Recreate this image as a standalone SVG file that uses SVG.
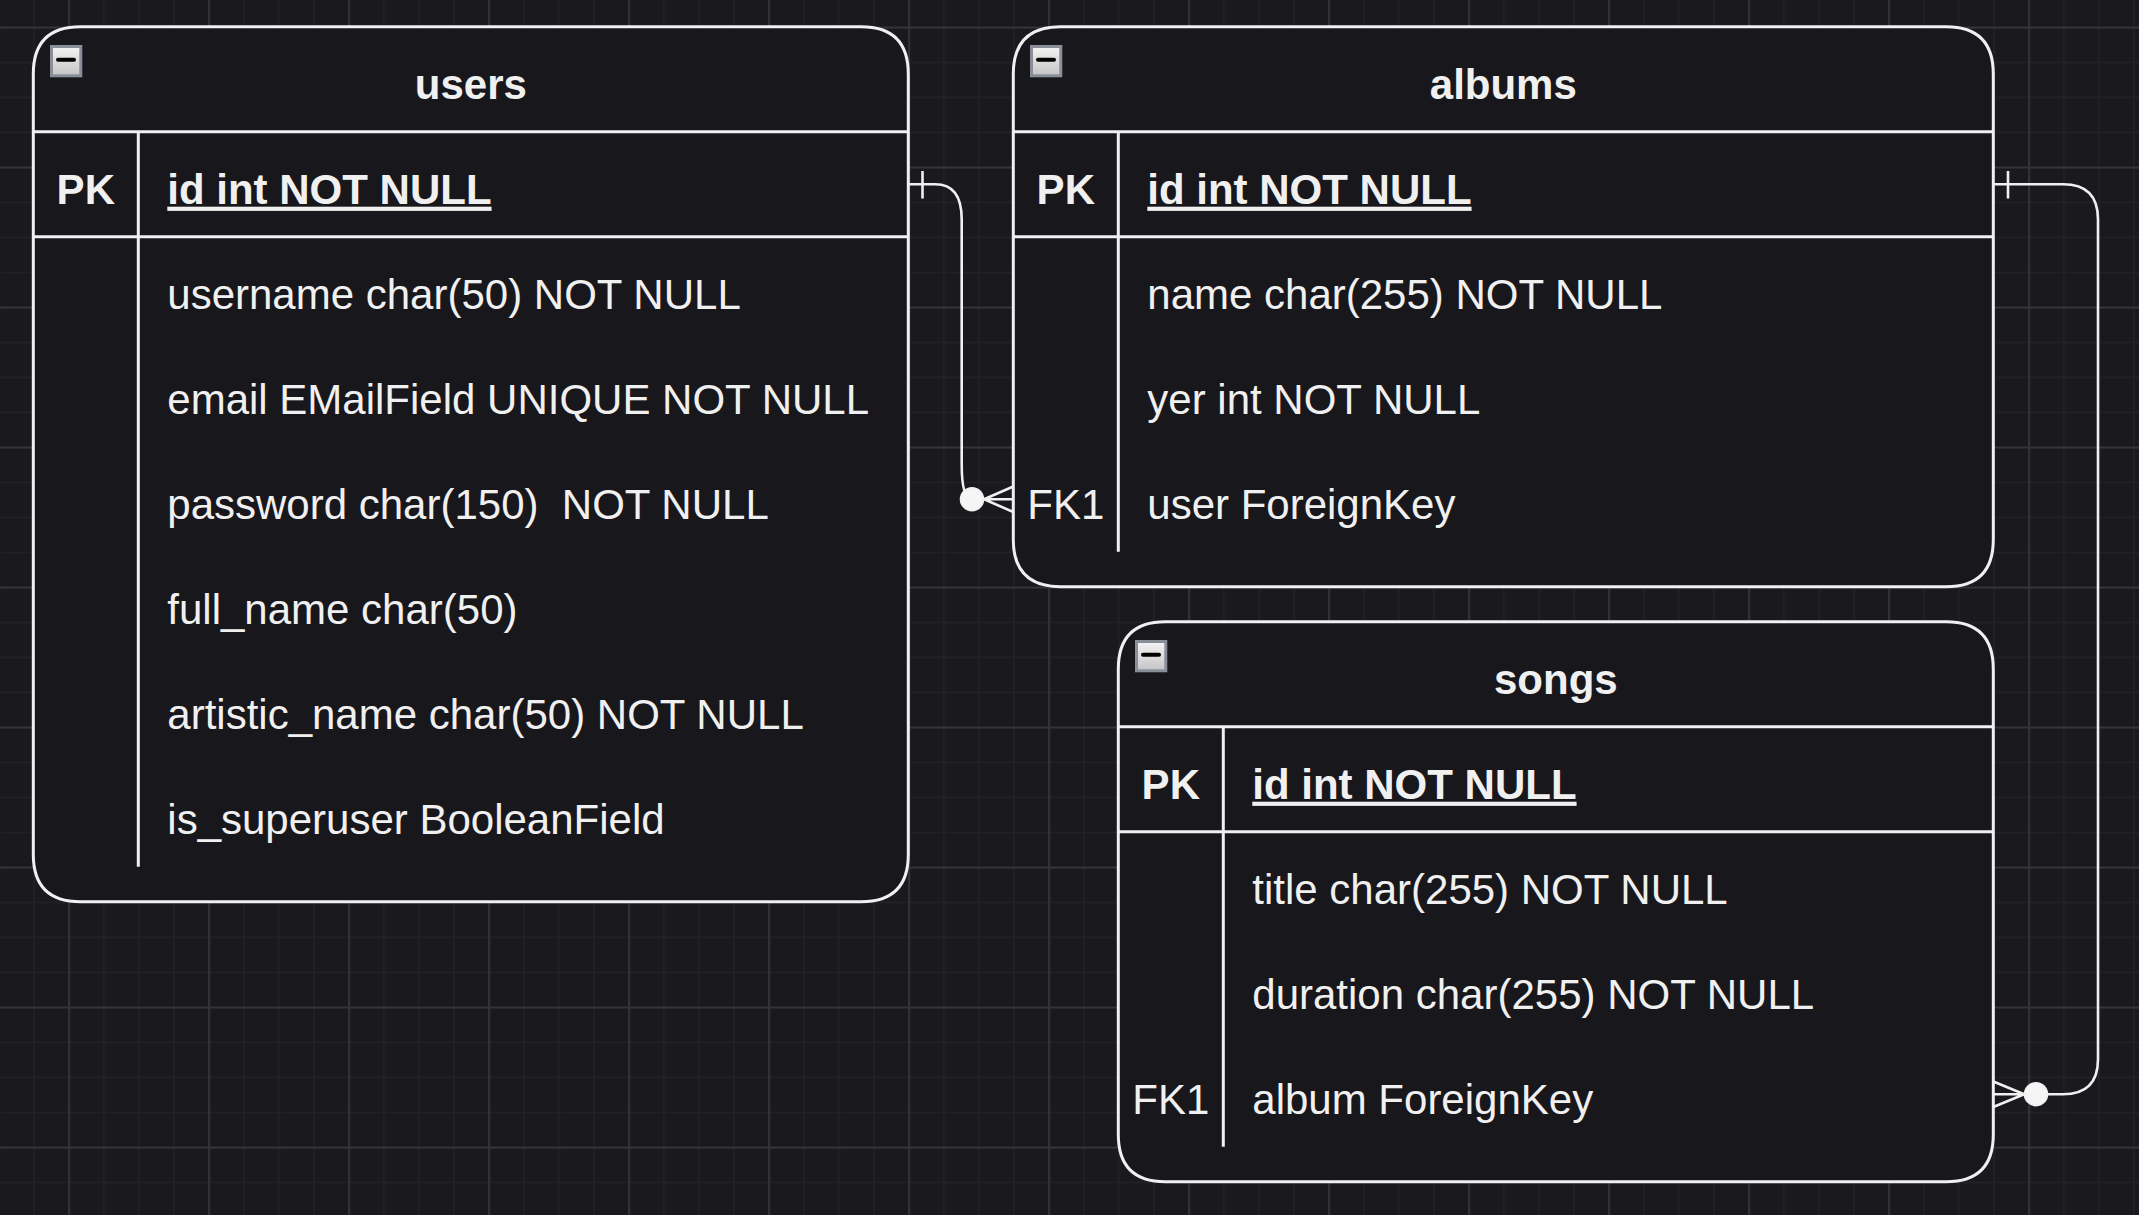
<svg xmlns="http://www.w3.org/2000/svg" width="2139" height="1215" viewBox="0 0 2139 1215">
<style>
text{font-family:"Liberation Sans",Arial,Helvetica,sans-serif;font-size:42px;fill:#f0f0f0}
.t{font-weight:bold;text-anchor:middle}
.pk{font-weight:bold;text-anchor:middle}
.fk{text-anchor:middle}
.idf{font-weight:bold;text-decoration:underline}
.box{fill:#18171c;stroke:#f0f0f0;stroke-width:3}
.ln{stroke:#f0f0f0;stroke-width:3;fill:none}
.edge{stroke:#f0f0f0;stroke-width:2.6;fill:none}
.dot{fill:#f5f5f5;stroke:#f0f0f0;stroke-width:1.5}
</style>
<defs>
<pattern id="fine" x="33.3" y="26.7" width="35" height="35" patternUnits="userSpaceOnUse">
<rect x="0" y="0" width="35" height="1.3" fill="#242328"/>
<rect x="0" y="0" width="1.3" height="35" fill="#242328"/>
</pattern>
<pattern id="major" x="68.3" y="26.7" width="140" height="140" patternUnits="userSpaceOnUse">
<rect x="0" y="0" width="140" height="1.6" fill="#38373d"/>
<rect x="0" y="0" width="1.6" height="140" fill="#38373d"/>
</pattern>
<linearGradient id="ig" x1="0" y1="0" x2="0" y2="1">
<stop offset="0" stop-color="#f4f4f4"/>
<stop offset="1" stop-color="#c4c4c6"/>
</linearGradient>
<g id="icon">
<rect x="18.2" y="19.8" width="29.3" height="29.3" fill="url(#ig)" stroke="#8a8e99" stroke-width="3"/>
<rect x="22.7" y="31" width="20" height="4" rx="2" fill="#000"/>
</g>
</defs>
<rect x="0" y="0" width="2139" height="1215" fill="#1a191e"/>
<rect x="0" y="0" width="2139" height="1215" fill="url(#fine)"/>
<rect x="0" y="0" width="2139" height="1215" fill="url(#major)"/>

<g id="users" transform="translate(33.3,26.7)">
<path class="box" d="M0,105 V47.25 Q0,0 47.25,0 H827.75 Q875,0 875,47.25 V827.75 Q875,875 827.75,875 H47.25 Q0,875 0,827.75 Z"/>
<path class="ln" d="M0,105 H875 M0,210 H875 M105,105 V840"/>
<use href="#icon"/>
<text class="t" x="437.5" y="72">users</text>
<text class="pk" x="52.5" y="177">PK</text>
<text class="idf" x="134" y="177">id int NOT NULL</text>
<text x="134" y="282">username char(50) NOT NULL</text>
<text x="134" y="387">email EMailField UNIQUE NOT NULL</text>
<text x="134" y="492" xml:space="preserve">password char(150)  NOT NULL</text>
<text x="134" y="597">full_name char(50)</text>
<text x="134" y="702">artistic_name char(50) NOT NULL</text>
<text x="134" y="807">is_superuser BooleanField</text>
</g>

<g id="albums" transform="translate(1013.3,26.7)">
<path class="box" d="M0,105 V47.25 Q0,0 47.25,0 H932.75 Q980,0 980,47.25 V512.75 Q980,560 932.75,560 H47.25 Q0,560 0,512.75 Z"/>
<path class="ln" d="M0,105 H980 M0,210 H980 M105,105 V525"/>
<use href="#icon"/>
<text class="t" x="490" y="72">albums</text>
<text class="pk" x="52.5" y="177">PK</text>
<text class="idf" x="134" y="177">id int NOT NULL</text>
<text x="134" y="282">name char(255) NOT NULL</text>
<text x="134" y="387">yer int NOT NULL</text>
<text class="fk" x="52.5" y="492">FK1</text>
<text x="134" y="492">user ForeignKey</text>
</g>

<g id="songs" transform="translate(1118.3,621.7)">
<path class="box" d="M0,105 V47.25 Q0,0 47.25,0 H827.75 Q875,0 875,47.25 V512.75 Q875,560 827.75,560 H47.25 Q0,560 0,512.75 Z"/>
<path class="ln" d="M0,105 H875 M0,210 H875 M105,105 V525"/>
<use href="#icon"/>
<text class="t" x="437.5" y="72">songs</text>
<text class="pk" x="52.5" y="177">PK</text>
<text class="idf" x="134" y="177">id int NOT NULL</text>
<text x="134" y="282">title char(255) NOT NULL</text>
<text x="134" y="387">duration char(255) NOT NULL</text>
<text class="fk" x="52.5" y="492">FK1</text>
<text x="134" y="492">album ForeignKey</text>
</g>

<g id="connectors">
<g id="users-albums">
<path class="edge" d="M908.3,184.2 H935.2 Q961.7,184.2 961.7,219.2 V464.2 Q961.7,499.2 972,499.2"/>
<path class="edge" d="M922.5,171 V198.5"/>
<circle class="dot" cx="972" cy="499.2" r="11.5"/>
<path class="edge" d="M1013.3,486.5 L984,499.2 L1013.3,512 M984,499.2 H1013.3"/>
</g>
<g id="albums-songs">
<path class="edge" d="M1993.3,184.2 H2063 Q2098,184.2 2098,219.2 V1059.2 Q2098,1094.2 2063,1094.2 H2036"/>
<path class="edge" d="M2008,171 V198.5"/>
<circle class="dot" cx="2036" cy="1094.2" r="11.5"/>
<path class="edge" d="M1993.3,1081.5 L2024.3,1094.2 L1993.3,1107 M2024.3,1094.2 H1993.3"/>
</g>
</g>
</svg>
